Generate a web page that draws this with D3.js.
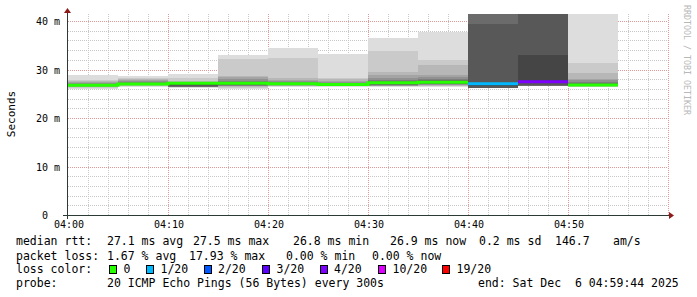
<!DOCTYPE html>
<html>
<head>
<meta charset="utf-8">
<script src="https://cdn.jsdelivr.net/npm/d3@7"></script>
<style>
  html, body { margin: 0; padding: 0; background: #fff; }
  svg { display: block; }
  text { font-family: "DejaVu Sans Mono", monospace; fill: #000; }
</style>
</head>
<body>
<svg id="chart" width="697" height="297"></svg>
<script>
/* DATA */
const steps = ["04:00", "04:05", "04:10", "04:15", "04:20", "04:25", "04:30", "04:35", "04:40", "04:45", "04:50"];
const medians = [26.75, 27.0, 27.15, 27.15, 27.05, 26.9, 27.25, 27.35, 27.05, 27.5, 26.8];
const lossPings = [0, 0, 0, 0, 0, 0, 0, 0, 1, 3.6, 0];

// 20 sorted ping rtts (ms) per step, values above the chart top get clipped
const pings = [
  [26.0, 26.2, 26.3, 26.4, 26.5, 26.5, 26.6, 26.6, 26.7, 26.7, 26.8, 26.8, 26.9, 27.0, 27.1, 27.2, 27.4, 27.6, 27.9, 28.9],
  [26.3, 26.5, 26.7, 26.8, 26.9, 26.9, 27.0, 27.0, 27.0, 27.0, 27.1, 27.1, 27.2, 27.3, 27.4, 27.6, 27.9, 28.1, 28.3, 28.7],
  [26.2, 26.3, 26.3, 26.3, 26.3, 26.4, 26.4, 26.6, 26.9, 27.1, 27.2, 27.3, 27.3, 27.4, 27.4, 27.5, 27.5, 27.6, 28.2, 29.1],
  [25.9, 26.2, 26.4, 26.5, 26.6, 26.7, 26.8, 26.9, 27.0, 27.1, 27.2, 27.3, 27.4, 27.5, 27.7, 28.0, 28.4, 28.6, 32.1, 33.0],
  [26.3, 26.5, 26.6, 26.7, 26.8, 26.8, 26.9, 26.9, 27.0, 27.0, 27.1, 27.1, 27.2, 27.3, 27.4, 27.6, 27.9, 28.2, 32.3, 34.5],
  [26.3, 26.5, 26.6, 26.7, 26.7, 26.8, 26.8, 26.9, 26.9, 26.9, 27.0, 27.0, 27.1, 27.2, 27.3, 27.5, 27.7, 28.0, 28.3, 33.1],
  [26.4, 26.5, 26.6, 26.6, 26.7, 26.8, 26.9, 27.0, 27.1, 27.2, 27.3, 27.4, 27.5, 27.6, 27.8, 28.2, 28.8, 29.5, 33.9, 36.6],
  [26.4, 26.6, 26.7, 26.8, 26.9, 27.0, 27.0, 27.1, 27.2, 27.3, 27.4, 27.5, 27.6, 27.8, 28.1, 28.5, 28.9, 30.9, 32.0, 37.8],
  [26.1, 26.1, 26.1, 26.1, 26.1, 26.1, 26.1, 26.1, 26.6, 27.0, 27.1, 27.3, 39.4, 43.0, 44.0, 45.0, 46.0, 47.0, 48.0, 50.0],
  [26.5, 26.5, 26.5, 26.5, 26.5, 26.5, 26.5, 26.9, 27.2, 27.4, 27.6, 33.0, 43.0, 44.0, 45.0, 46.0, 47.0, 48.0, 49.0, 50.0],
  [26.3, 26.4, 26.5, 26.5, 26.6, 26.6, 26.7, 26.7, 26.7, 26.8, 26.8, 26.9, 27.0, 27.2, 27.5, 27.8, 28.0, 29.2, 31.4, 44.0]
];

const lossLevels = [0, 1, 2, 3, 4, 10, 19];
const lossLabels = ["0", "1/20", "2/20", "3/20", "4/20", "10/20", "19/20"];
const lossColors = ["#26ff00", "#00b8ff", "#0059ff", "#5e00ff", "#7e00ff", "#dd00ff", "#ff0000"];

const xTicks = ["04:00", "04:10", "04:20", "04:30", "04:40", "04:50"];
const yTicks = [0, 10, 20, 30, 40];
const yTickLabels = ["0\u00a0\u00a0", "10 m", "20 m", "30 m", "40 m"];

const rttStats = ["27.1 ms avg", "27.5 ms max", "26.8 ms min", "26.9 ms now", "0.2 ms sd", "146.7", "am/s"];
const lossStats = ["1.67 % avg", "17.93 % max", "0.00 % min", "0.00 % now"];
const probeText = "20 ICMP Echo Pings (56 Bytes) every 300s";
const endText = "end: Sat Dec\u00a0\u00a06 04:59:44 2025";

/* LAYOUT */
const parse = d3.timeParse("%H:%M");
const t0 = parse("04:00"), t1 = parse("05:00");
const plotL = 68, plotR = 668, plotT = 14, plotB = 215;

const x = d3.scaleTime().domain([t0, t1]).range([plotL, plotR]);
const y = d3.scaleLinear().domain([0, 41.45]).range([plotB, plotT]);

const svg = d3.select("#chart");
svg.append("rect").attr("width", 697).attr("height", 297).attr("fill", "#fff");

svg.append("defs").append("clipPath").attr("id", "plot")
  .append("rect").attr("x", plotL).attr("y", plotT).attr("width", plotR - plotL).attr("height", plotB - plotT);

/* GRID */
const grid = svg.append("g").attr("shape-rendering", "crispEdges");
const minorT = d3.timeMinute.every(2).range(t0, t1).filter(t => t.getMinutes() % 10 !== 0);
const majorT = d3.timeMinute.every(10).range(d3.timeMinute.offset(t0, 10), d3.timeMinute.offset(t1, 1));
const minorV = d3.range(2, 42, 2).filter(v => v % 10 !== 0);
const majorV = [10, 20, 30, 40];

grid.selectAll(".vmin").data(minorT).enter().append("line")
  .attr("x1", d => Math.round(x(d)) + 0.5).attr("x2", d => Math.round(x(d)) + 0.5)
  .attr("y1", plotB).attr("y2", plotT - 1)
  .attr("stroke", "#c8c8c8").attr("stroke-dasharray", "1,1");
grid.selectAll(".hmin").data(minorV).enter().append("line")
  .attr("y1", d => Math.round(y(d)) + 0.5).attr("y2", d => Math.round(y(d)) + 0.5)
  .attr("x1", plotL).attr("x2", plotR)
  .attr("stroke", "#c8c8c8").attr("stroke-dasharray", "1,1");
grid.selectAll(".vmaj").data(majorT).enter().append("line")
  .attr("x1", d => Math.round(x(d)) + 0.5).attr("x2", d => Math.round(x(d)) + 0.5)
  .attr("y1", plotB).attr("y2", plotT - 1)
  .attr("stroke", "#e09898").attr("stroke-dasharray", "1,1");
grid.selectAll(".hmaj").data(majorV).enter().append("line")
  .attr("y1", d => Math.round(y(d)) + 0.5).attr("y2", d => Math.round(y(d)) + 0.5)
  .attr("x1", plotL).attr("x2", plotR)
  .attr("stroke", "#e09898").attr("stroke-dasharray", "1,1");

/* SMOKE */
const smoke = svg.append("g").attr("clip-path", "url(#plot)").attr("shape-rendering", "crispEdges");
const half = 10;
pings.forEach((p, i) => {
  const xa = x(parse(steps[i]));
  const xb = x(d3.timeMinute.offset(parse(steps[i]), 5));
  for (let ibot = 1, itop = 20; itop > ibot; ibot++, itop--) {
    const g = Math.floor(190 / half * (half - ibot)) + 50;
    const lo = p[ibot - 1], hi = Math.min(p[itop - 1], y.domain()[1] + 1);
    smoke.append("rect")
      .attr("x", xa).attr("width", xb - xa)
      .attr("y", y(hi)).attr("height", y(lo) - y(hi))
      .attr("fill", d3.rgb(g, g, g));
  }
});

/* MEDIAN */
const colorFor = loss => {
  const n = Math.round(loss);
  let c = lossColors[0];
  lossLevels.forEach((l, k) => { if (n >= l) c = lossColors[k]; });
  return c;
};
const runs = [];
steps.forEach((s, i) => {
  const c = colorFor(lossPings[i]);
  const pt = [parse(s), medians[i]];
  const prev = runs[runs.length - 1];
  if (prev && prev.color === c && prev.end === i - 1) {
    prev.pts.push(pt);
    prev.end = i;
  } else {
    runs.push({ color: c, pts: [pt], end: i });
  }
});
runs.forEach(r => {
  const last = r.pts[r.pts.length - 1];
  r.pts.push([d3.timeMinute.offset(last[0], 5), last[1]]);
});
const line = d3.line().x(d => x(d[0])).y(d => y(d[1])).curve(d3.curveStepAfter);
svg.append("g").attr("clip-path", "url(#plot)").selectAll("path").data(runs).enter().append("path")
  .attr("d", d => line(d.pts))
  .attr("fill", "none").attr("stroke", d => d.color).attr("stroke-width", 3);

/* AXES */
const axisColor = "#2c3a36", arrowColor = "#8e1a1a";
svg.append("line").attr("x1", plotL - 5).attr("x2", plotR + 2).attr("y1", plotB + 0.5).attr("y2", plotB + 0.5)
  .attr("stroke", axisColor).attr("shape-rendering", "crispEdges");
svg.append("line").attr("x1", plotL - 0.5).attr("x2", plotL - 0.5).attr("y1", plotB + 4).attr("y2", plotT - 2)
  .attr("stroke", axisColor).attr("shape-rendering", "crispEdges");
svg.append("path").attr("d", `M${plotR + 1},${plotB - 3}L${plotR + 6},${plotB + 0.5}L${plotR + 1},${plotB + 4}Z`).attr("fill", arrowColor);
svg.append("path").attr("d", `M${plotL - 4},${plotT - 1}L${plotL - 0.5},${plotT - 6}L${plotL + 3},${plotT - 1}Z`).attr("fill", arrowColor);

svg.selectAll(".xt").data(xTicks).enter().append("text")
  .attr("x", d => x(parse(d)) + 1).attr("y", 228)
  .attr("text-anchor", "middle").attr("font-size", "10px").text(d => d);

svg.selectAll(".yt").data(yTicks).enter().append("text")
  .attr("x", 60).attr("y", d => y(d) + 4)
  .attr("text-anchor", "end").attr("font-size", "10px").text((d, i) => yTickLabels[i]);

svg.append("text").attr("transform", "translate(15,114) rotate(-90)")
  .attr("text-anchor", "middle").attr("font-size", "11px").text("Seconds");

svg.append("text").attr("transform", "translate(684,5) rotate(90)")
  .attr("font-size", "8.3px").style("fill", "#b8b8b8").text("RRDTOOL / TOBI OETIKER");

/* LEGEND */
const leg = svg.append("g").attr("font-size", "11.5px");
const rttX = [107, 193, 293, 390, 479, 555, 613];
const lossX = [107, 189, 286, 372];
const boxX = [109, 146, 203.5, 262, 319.5, 378, 442];

leg.append("text").attr("x", 16).attr("y", 245).text("median rtt:");
rttStats.forEach((s, i) => leg.append("text").attr("x", rttX[i]).attr("y", 245).text(s));
leg.append("text").attr("x", 16).attr("y", 259.5).text("packet loss:");
lossStats.forEach((s, i) => leg.append("text").attr("x", lossX[i]).attr("y", 259.5).text(s));
leg.append("text").attr("x", 16).attr("y", 273).text("loss color:");
lossLabels.forEach((s, i) => {
  leg.append("rect").attr("x", boxX[i] + 0.5).attr("y", 265.5).attr("width", 7).attr("height", 8)
    .attr("fill", lossColors[i]).attr("stroke", "#000").attr("shape-rendering", "crispEdges");
  leg.append("text").attr("x", boxX[i] + 14.5).attr("y", 273).text(s);
});
leg.append("text").attr("x", 16).attr("y", 287).text("probe:");
leg.append("text").attr("x", 107).attr("y", 287).text(probeText);
leg.append("text").attr("x", 478).attr("y", 287).text(endText);
</script>
</body>
</html>
